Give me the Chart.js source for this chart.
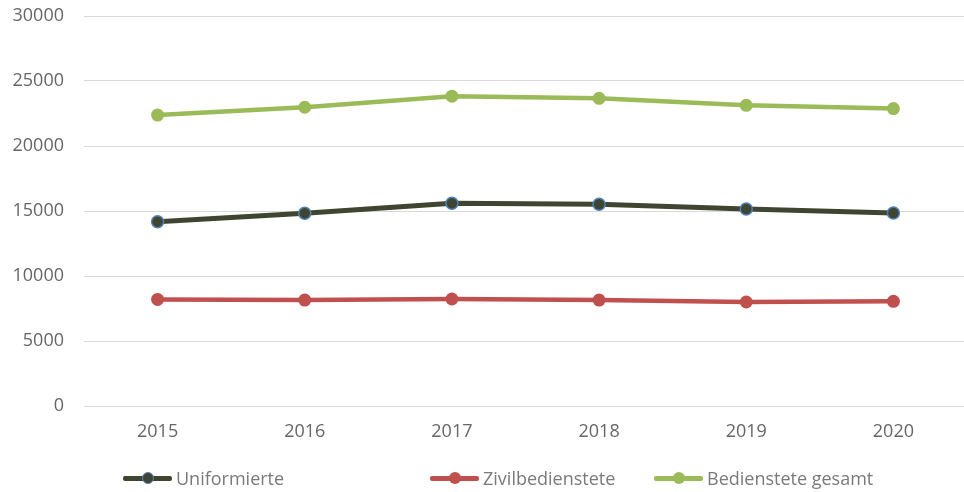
<!DOCTYPE html>
<html>
<head>
<meta charset="utf-8">
<script src="https://cdn.jsdelivr.net/npm/chart.js@4/dist/chart.umd.min.js"></script>
<style>
  html, body { margin: 0; padding: 0; background: #fff; overflow: hidden; width: 964px; height: 492px; }
  #wrap { position: relative; width: 968px; height: 492px; }
  canvas { display: block; }
  .leg { position: absolute; top: 466px; height: 24px; display: flex; align-items: center;
         font-family: "Open Sans", sans-serif; font-size: 18px; color: #7a7a7a; }
  .sample { position: relative; width: 49px; height: 5px; margin-right: 4px; border-radius: 2px; }
  .dot { position: absolute; left: 50%; top: 50%; width: 12px; height: 12px; border-radius: 50%;
         transform: translate(-50%, -50%); box-sizing: border-box; }
</style>
</head>
<body>
<div id="wrap">
  <canvas id="c" width="968" height="492" style="width:968px;height:492px"></canvas>
  <div class="leg" style="left:123px"><div class="sample" style="background:#3E4530"><div class="dot" style="background:#3E4530;border:1.5px solid #4F81BD"></div></div>Uniformierte</div>
  <div class="leg" style="left:430px"><div class="sample" style="background:#C0504D"><div class="dot" style="background:#C0504D"></div></div>Zivilbedienstete</div>
  <div class="leg" style="left:654px"><div class="sample" style="background:#9BBB59"><div class="dot" style="background:#9BBB59"></div></div>Bedienstete gesamt</div>
</div>
<script>
const years = ["2015", "2016", "2017", "2018", "2019", "2020"];
const uniformierte = [14180, 14830, 15600, 15520, 15150, 14850];
const zivilbedienstete = [8200, 8150, 8230, 8150, 8000, 8050];
const gesamt = [22380, 22980, 23830, 23670, 23130, 22880];
const yTicks = [0, 5000, 10000, 15000, 20000, 25000, 30000];

function noPad(s) { s.paddingTop = 0; s.paddingBottom = 0; s.paddingLeft = 0; s.paddingRight = 0; }

new Chart(document.getElementById('c'), {
  type: 'line',
  data: {
    labels: years,
    datasets: [
      { label: 'Uniformierte', data: uniformierte, borderColor: '#3E4530', backgroundColor: '#3E4530',
        borderWidth: 5, pointRadius: 6, pointBorderWidth: 1.5, pointBorderColor: '#4F81BD', pointBackgroundColor: '#3E4530' },
      { label: 'Zivilbedienstete', data: zivilbedienstete, borderColor: '#C0504D', backgroundColor: '#C0504D',
        borderWidth: 4.5, pointRadius: 6.5, pointBorderWidth: 0, pointBackgroundColor: '#C0504D' },
      { label: 'Bedienstete gesamt', data: gesamt, borderColor: '#9BBB59', backgroundColor: '#9BBB59',
        borderWidth: 4.5, pointRadius: 6.5, pointBorderWidth: 0, pointBackgroundColor: '#9BBB59' }
    ]
  },
  options: {
    responsive: false,
    animation: false,
    layout: { autoPadding: false, padding: { top: 16, right: 1, left: 0, bottom: 0 } },
    plugins: { legend: { display: false }, tooltip: { enabled: false } },
    scales: {
      x: {
        offset: true,
        grid: { display: false, drawTicks: false },
        border: { display: false },
        ticks: { color: '#666', padding: 15, font: { family: 'Open Sans', size: 18 } },
        afterFit: s => { s.height = 86; noPad(s); }
      },
      y: {
        min: 0, max: 30000,
        afterBuildTicks: s => { s.ticks = yTicks.map(v => ({ value: v })); },
        grid: { color: '#d9d9d9', lineWidth: 1, drawTicks: false },
        border: { display: false },
        ticks: { color: '#666', padding: 20, font: { family: 'Open Sans', size: 18 },
                 callback: v => String(v) },
        afterFit: s => { s.width = 84; noPad(s); }
      }
    }
  }
});
</script>
</body>
</html>
